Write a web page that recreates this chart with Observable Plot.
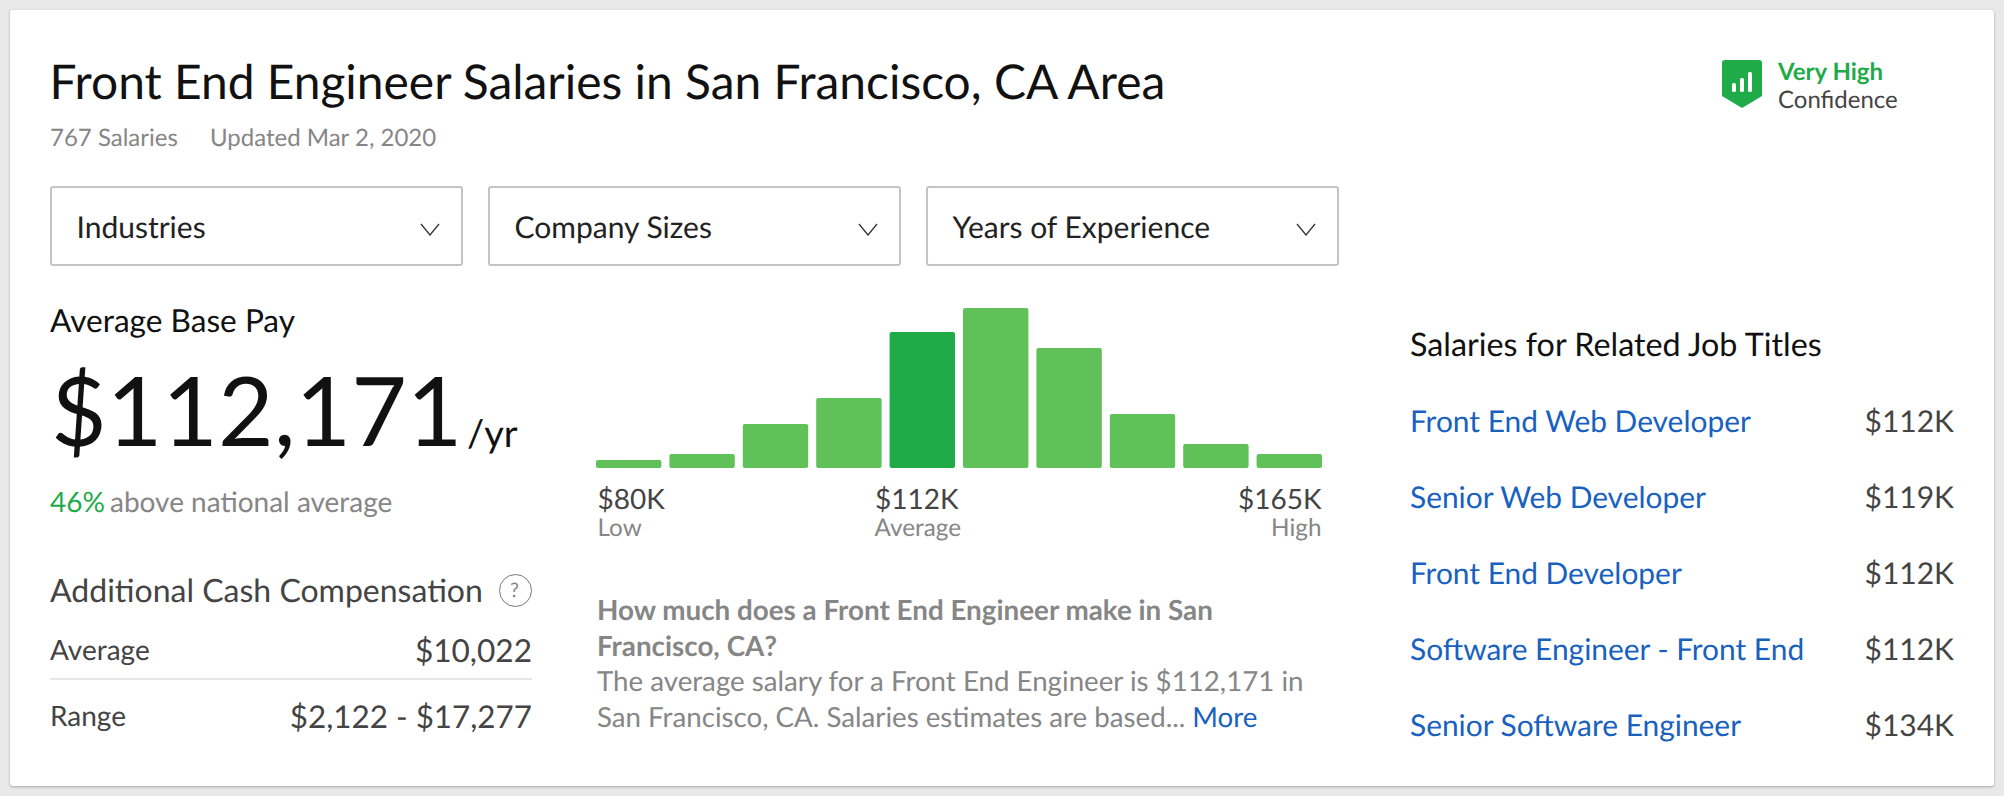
<!DOCTYPE html>
<html>
<head>
<meta charset="utf-8">
<script src="https://cdn.jsdelivr.net/npm/d3@7"></script>
<script src="https://cdn.jsdelivr.net/npm/@observablehq/plot@0.6"></script>
<style>
html,body{margin:0;padding:0;width:2004px;height:796px;overflow:hidden;background:#e9e9e9;font-family:Lato,sans-serif;text-rendering:geometricPrecision;}
#card{position:absolute;left:10px;top:10px;width:1984px;height:776px;background:#fff;border-radius:3px;box-shadow:0 1px 3px rgba(0,0,0,.28);}
.t{position:absolute;line-height:0;white-space:pre;}
.box{position:absolute;top:186px;height:76px;width:409px;border:2px solid #c4c4c4;border-radius:3px;background:#fff;}
.abs{position:absolute;}
#chart{position:absolute;left:596px;top:308px;width:726px;}
a{color:#1861bf;text-decoration:none;}
</style>
</head>
<body>
<div id="card"></div>
<div id="chart"></div>
<script>
const binIndex = [0,1,2,3,4,5,6,7,8,9];
const binCounts = [8,14,44,70,136,160,120,54,24,14];
const averageBin = 4;
const rangeValues = ["$80K","$112K","$165K"];
const rangeNames = ["Low","Average","High"];

const titleText = "Front End Engineer Salaries in San Francisco, CA Area";
const subtitleParts = ["767 Salaries","Updated Mar 2, 2020"];
const filters = ["Industries","Company Sizes","Years of Experience"];
const relatedTitles = ["Front End Web Developer","Senior Web Developer","Front End Developer","Software Engineer - Front End","Senior Software Engineer"];
const relatedPay = ["$112K","$119K","$112K","$112K","$134K"];
const bodyLines = ["How much does a Front End Engineer make in San","Francisco, CA?","The average salary for a Front End Engineer is $112,171 in","San Francisco, CA. Salaries estimates are based... "];

// baseline-positioned text helper (Lato metrics)
function T(str,x,base,size,color,opts={}){
  const e=document.createElement("div");
  e.className="t";
  e.textContent=str;
  e.style.fontSize=size+"px";
  e.style.color=color;
  e.style.top=(base-0.35*size)+"px";
  if(opts.right!=null){e.style.right=(2004-opts.right)+"px";} else {e.style.left=x+"px";}
  if(opts.weight)e.style.fontWeight=opts.weight;
  document.body.appendChild(e);
  return e;
}
const ink="#111", mid="#444", gray="#868686", green="#1fab48", blue="#1861bf";

T(titleText,49.5,99,47.9,ink);
T(subtitleParts[0],50,146,24,gray);
T(subtitleParts[1],210,146,24,gray);

[50,488,926].forEach((x,i)=>{
  const b=document.createElement("div");b.className="box";b.style.left=x+"px";document.body.appendChild(b);
  T(filters[i],x+26.5,237,30,"#222");
  const c=document.createElementNS("http://www.w3.org/2000/svg","svg");
  c.setAttribute("width",20);c.setAttribute("height",13);c.setAttribute("class","abs");
  c.style.left=(x+369.5)+"px";c.style.top="223px";
  c.innerHTML='<path d="M1 1 L10 12 L19 1" fill="none" stroke="#333" stroke-width="1.3"/>';
  document.body.appendChild(c);
});

// confidence badge
const badge=document.createElementNS("http://www.w3.org/2000/svg","svg");
badge.setAttribute("width",40);badge.setAttribute("height",48);badge.setAttribute("class","abs");
badge.style.left="1722px";badge.style.top="60px";
badge.innerHTML='<path d="M3 0H37a3 3 0 0 1 3 3V36L20 48L0 36V3a3 3 0 0 1 3-3Z" fill="#1fab48"/><rect x="10" y="23" width="4" height="9" rx="1.5" fill="#fff"/><rect x="18" y="18" width="4" height="14" rx="1.5" fill="#fff"/><rect x="26" y="12" width="4" height="20" rx="1.5" fill="#fff"/>';
document.body.appendChild(badge);
T("Very High",1778,80,24,green,{weight:700});
T("Confidence",1778,108,24,mid);

// left column
T("Average Base Pay",50,331,31.6,ink);
T("$112,171",51,443.5,96,ink);
T("/yr",467,446,38,ink);
T("46%",50,511,28,green);
T("above national average",110,511,28,gray);
T("Additional Cash Compensation",50,601,32,mid);
const q=document.createElement("div");q.className="abs";
q.style.cssText="left:499px;top:574px;width:31px;height:31px;border:1.5px solid #777;border-radius:50%;";
document.body.appendChild(q);
T("?",510,597,20,gray);
T("Average",50,659,28,mid);
T("$10,022",0,661,31.6,mid,{right:532});
const rule=document.createElement("div");rule.className="abs";
rule.style.cssText="left:50px;top:678px;width:482px;height:2px;background:#e6e6e6;";
document.body.appendChild(rule);
T("Range",50,725,28,mid);
T("$2,122 - $17,277",0,727,31.4,mid,{right:532});

// histogram
const bins=binIndex.map(i=>({i,n:binCounts[i]}));
const chart=Plot.plot({
  width:726,height:232,margin:0,marginBottom:72,
  style:{background:"transparent",overflow:"visible",fontFamily:"Lato",textRendering:"geometricPrecision"},
  x:{type:"band",domain:binIndex,paddingInner:0.109,paddingOuter:0,round:false,axis:null},
  y:{domain:[0,160],axis:null},
  marks:[
    Plot.barY(bins,{x:"i",y:"n",rx:2,fill:d=>d.i===averageBin?"#1fab48":"#5fc158"}),
    Plot.text([rangeValues[0]],{frameAnchor:"bottom-left",textAnchor:"start",dx:1,lineAnchor:"bottom",dy:40,fontSize:28,fill:"#444"}),
    Plot.text([rangeValues[1]],{x:[averageBin],y:[0],textAnchor:"middle",lineAnchor:"bottom",dy:40,dx:-6,fontSize:28,fill:"#444"}),
    Plot.text([rangeValues[2]],{frameAnchor:"bottom-right",textAnchor:"end",dx:-1,lineAnchor:"bottom",dy:40,fontSize:28,fill:"#444"}),
    Plot.text([rangeNames[0]],{frameAnchor:"bottom-left",textAnchor:"start",dx:1,lineAnchor:"bottom",dy:67,fontSize:24.3,fill:"#868686"}),
    Plot.text([rangeNames[1]],{x:[averageBin],y:[0],textAnchor:"middle",lineAnchor:"bottom",dy:67,dx:-5,fontSize:24.3,fill:"#868686"}),
    Plot.text([rangeNames[2]],{frameAnchor:"bottom-right",textAnchor:"end",dx:-1,lineAnchor:"bottom",dy:67,fontSize:24.3,fill:"#868686"})
  ]
});
document.getElementById("chart").appendChild(chart);

// body text
T(bodyLines[0],597,619.5,27.8,gray,{weight:700});
T(bodyLines[1],597,656,27.8,gray,{weight:700});
T(bodyLines[2],597,691,27.7,gray);
const last=T(bodyLines[3],597,727,27.7,gray);
const more=document.createElement("a");more.textContent="More";more.href="#";last.appendChild(more);

// related titles
T("Salaries for Related Job Titles",1410,355,32.3,ink);
[431,507,583,659,735].forEach((y,i)=>{
  T(relatedTitles[i],1410,y,29.9,blue);
  T(relatedPay[i],0,y,30,mid,{right:1954});
});
</script>
</body>
</html>
